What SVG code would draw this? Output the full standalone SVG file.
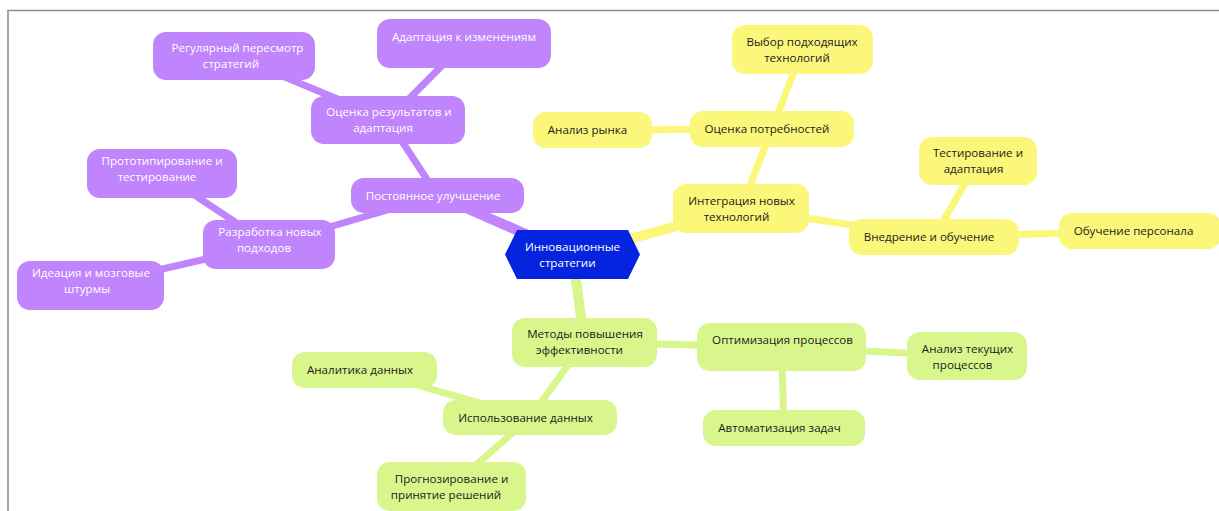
<svg xmlns="http://www.w3.org/2000/svg" width="1219" height="511" viewBox="0 0 1219 511">
  <style>
    .frame { stroke: #8e8e8e; stroke-width: 1.6; fill: none; }
    .c-p { stroke: #c084fc; fill: none; stroke-linecap: round; }
    .c-y { stroke: #fbf77a; fill: none; stroke-linecap: round; }
    .c-g { stroke: #d8f68c; fill: none; stroke-linecap: round; }
    .main { stroke-width: 10; }
    .sub { stroke-width: 7; }
    .n-p { fill: #c084fc; }
    .n-y { fill: #fbf77a; }
    .n-g { fill: #d8f68c; }
    .n-root { fill: #0424e0; }
    text { font-family: "Open Sans", "Noto Sans", "DejaVu Sans", sans-serif; font-size: 11.6px; text-anchor: middle; }
    .t-light { fill: #ffffff; }
    .t-dark { fill: #1c1c1c; }
  </style>

  <rect width="1219" height="511" fill="#ffffff"/>
  <!-- page frame -->
  <path class="frame" d="M8 511 V10.5 H1219"/>

  <!-- connectors -->
  <g id="connectors">
    <!-- purple branch -->
    <line class="c-p main" x1="572.5" y1="254.5" x2="437.5" y2="195.5"/>
    <line class="c-p sub" x1="437.5" y1="195.5" x2="388" y2="120"/>
    <line class="c-p sub" x1="388" y1="120" x2="464" y2="43.5"/>
    <line class="c-p sub" x1="388" y1="120" x2="234" y2="56"/>
    <line class="c-p sub" x1="437.5" y1="195.5" x2="269" y2="244.5"/>
    <line class="c-p sub" x1="269" y1="244.5" x2="162" y2="173.5"/>
    <line class="c-p sub" x1="269" y1="244.5" x2="90.5" y2="285.5"/>
    <!-- yellow branch -->
    <line class="c-y main" x1="572.5" y1="254.5" x2="741" y2="208.5"/>
    <line class="c-y sub" x1="741" y1="208.5" x2="772" y2="129"/>
    <line class="c-y sub" x1="772" y1="129" x2="802.5" y2="49.5"/>
    <line class="c-y sub" x1="772" y1="129" x2="592.5" y2="130"/>
    <line class="c-y sub" x1="741" y1="208.5" x2="934" y2="237"/>
    <line class="c-y sub" x1="934" y1="237" x2="978" y2="161"/>
    <line class="c-y sub" x1="934" y1="237" x2="1139" y2="231"/>
    <!-- green branch -->
    <line class="c-g main" x1="572.5" y1="254.5" x2="584.5" y2="342.5"/>
    <line class="c-g sub" x1="584.5" y1="342.5" x2="781.5" y2="347"/>
    <line class="c-g sub" x1="781.5" y1="347" x2="967" y2="356"/>
    <line class="c-g sub" x1="781.5" y1="347" x2="784" y2="428"/>
    <line class="c-g sub" x1="584.5" y1="342.5" x2="530" y2="417.5"/>
    <line class="c-g sub" x1="530" y1="417.5" x2="364.5" y2="370"/>
    <line class="c-g sub" x1="530" y1="417.5" x2="451.5" y2="486.5"/>
  </g>

  <!-- root -->
  <g id="root">
    <polygon class="n-root" points="505,254.5 517,230 628,230 640,254.5 628,279 517,279"/>
    <text class="t-light"><tspan x="572.5" y="251.3">Инновационные</tspan><tspan x="567.5" y="267.3">стратегии</tspan></text>
  </g>

  <!-- purple nodes -->
  <g id="n-improvement">
    <rect class="n-p" x="351" y="178" width="173" height="35" rx="13"/>
    <text class="t-light" x="433" y="200">Постоянное улучшение</text>
  </g>
  <g id="n-evaluation">
    <rect class="n-p" x="311" y="96" width="154" height="48" rx="13"/>
    <text class="t-light"><tspan x="389" y="116">Оценка результатов и</tspan><tspan x="383" y="132">адаптация</tspan></text>
  </g>
  <g id="n-adapt-change">
    <rect class="n-p" x="377" y="19" width="174" height="49" rx="13"/>
    <text class="t-light" x="464" y="41">Адаптация к изменениям</text>
  </g>
  <g id="n-review">
    <rect class="n-p" x="153" y="32" width="162" height="48" rx="13"/>
    <text class="t-light"><tspan x="237.5" y="52">Регулярный пересмотр</tspan><tspan x="231" y="68">стратегий</tspan></text>
  </g>
  <g id="n-new-approaches">
    <rect class="n-p" x="203" y="220" width="132" height="49" rx="13"/>
    <text class="t-light"><tspan x="270" y="236">Разработка новых</tspan><tspan x="264" y="252">подходов</tspan></text>
  </g>
  <g id="n-prototyping">
    <rect class="n-p" x="87" y="149" width="150" height="49" rx="13"/>
    <text class="t-light"><tspan x="162" y="165">Прототипирование и</tspan><tspan x="157" y="181">тестирование</tspan></text>
  </g>
  <g id="n-ideation">
    <rect class="n-p" x="17" y="261" width="147" height="49" rx="13"/>
    <text class="t-light"><tspan x="91" y="277">Идеация и мозговые</tspan><tspan x="87" y="293">штурмы</tspan></text>
  </g>

  <!-- yellow nodes -->
  <g id="n-integration">
    <rect class="n-y" x="673" y="184" width="136" height="49" rx="13"/>
    <text class="t-dark"><tspan x="741.5" y="204.5">Интеграция новых</tspan><tspan x="736.5" y="220.5">технологий</tspan></text>
  </g>
  <g id="n-needs">
    <rect class="n-y" x="690" y="111" width="164" height="36" rx="13"/>
    <text class="t-dark" x="767" y="133">Оценка потребностей</text>
  </g>
  <g id="n-tech-choice">
    <rect class="n-y" x="732" y="25" width="141" height="49" rx="13"/>
    <text class="t-dark"><tspan x="802" y="45.5">Выбор подходящих</tspan><tspan x="797" y="61.5">технологий</tspan></text>
  </g>
  <g id="n-market">
    <rect class="n-y" x="533" y="112" width="119" height="36" rx="13"/>
    <text class="t-dark" x="587.5" y="134">Анализ рынка</text>
  </g>
  <g id="n-rollout">
    <rect class="n-y" x="849" y="219" width="170" height="36" rx="13"/>
    <text class="t-dark" x="929" y="241">Внедрение и обучение</text>
  </g>
  <g id="n-testing">
    <rect class="n-y" x="919" y="137" width="118" height="48" rx="13"/>
    <text class="t-dark"><tspan x="978" y="156.7">Тестирование и</tspan><tspan x="973.5" y="172.7">адаптация</tspan></text>
  </g>
  <g id="n-training">
    <rect class="n-y" x="1059" y="213" width="162" height="36" rx="13"/>
    <text class="t-dark" x="1133.5" y="234.5">Обучение персонала</text>
  </g>

  <!-- green nodes -->
  <g id="n-efficiency">
    <rect class="n-g" x="512" y="318" width="145" height="49" rx="13"/>
    <text class="t-dark"><tspan x="585" y="338">Методы повышения</tspan><tspan x="579.5" y="354">эффективности</tspan></text>
  </g>
  <g id="n-process-opt">
    <rect class="n-g" x="697" y="323" width="169" height="48" rx="13"/>
    <text class="t-dark" x="782.5" y="344">Оптимизация процессов</text>
  </g>
  <g id="n-current-analysis">
    <rect class="n-g" x="907" y="332" width="120" height="48" rx="13"/>
    <text class="t-dark"><tspan x="967.5" y="352.5">Анализ текущих</tspan><tspan x="962.5" y="368.5">процессов</tspan></text>
  </g>
  <g id="n-automation">
    <rect class="n-g" x="703" y="410" width="162" height="36" rx="13"/>
    <text class="t-dark" x="779.5" y="432">Автоматизация задач</text>
  </g>
  <g id="n-data-use">
    <rect class="n-g" x="443" y="400" width="174" height="35" rx="13"/>
    <text class="t-dark" x="525.5" y="421.5">Использование данных</text>
  </g>
  <g id="n-analytics">
    <rect class="n-g" x="292" y="352" width="145" height="36" rx="13"/>
    <text class="t-dark" x="360" y="374">Аналитика данных</text>
  </g>
  <g id="n-forecast">
    <rect class="n-g" x="377" y="462" width="149" height="49" rx="13"/>
    <text class="t-dark"><tspan x="451.5" y="482.5">Прогнозирование и</tspan><tspan x="446" y="498.5">принятие решений</tspan></text>
  </g>
</svg>
